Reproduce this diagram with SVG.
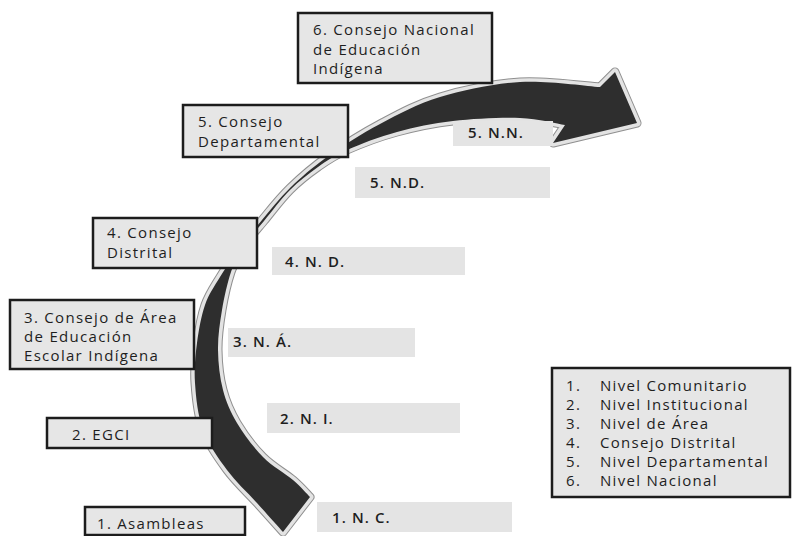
<svg xmlns="http://www.w3.org/2000/svg" xmlns:xlink="http://www.w3.org/1999/xlink" width="795" height="536" viewBox="0 0 795 536">
<style>
.box{fill:#e6e6e6;stroke:#1c1c1c;stroke-width:2.5}
.bar{fill:#e4e4e4}
.t{font-family:"Open Sans","Noto Sans",sans-serif;font-size:15px;font-weight:500;fill:#1e1e1e;letter-spacing:1.3px}
.b{font-weight:600;letter-spacing:1.1px}
</style>
<defs>
<path id="arrowShape" d="M283,532 C278.7,527.2 266.3,513.3 257,503 C247.7,492.7 236,482.2 227,470 C218,457.8 208.3,444.5 203,430 C197.7,415.5 196,397.5 195,383 C194,368.5 195.3,356 197,343 C198.7,330 201.2,316 205,305 C208.8,294 214.2,286.5 220,277 C225.8,267.5 233,257.5 240,248 C247,238.5 253.7,230 262,220 C270.3,210 279.2,198.5 290,188 C300.8,177.5 312,167.7 327,157 C342,146.3 361.2,134 380,124 C398.8,114 416.7,104 440,97 C463.3,90 493.3,83.7 520,82 C546.7,80.3 586.7,86.2 600,87 L615,72 L637,123 L553,143 L565,125 C557.5,123.8 538.7,118.7 520,118 C501.3,117.3 473.5,118.7 453,121 C432.5,123.3 414.7,127.2 397,132 C379.3,136.8 360.2,144.2 347,150 C333.8,155.8 327.5,160.3 318,167 C308.5,173.7 299,181 290,190 C281,199 271.8,211.5 264,221 C256.2,230.5 248.5,238.5 243,247 C237.5,255.5 234.5,261.5 231,272 C227.5,282.5 224.2,297 222,310 C219.8,323 217.8,336.7 218,350 C218.2,363.3 219.8,377.8 223,390 C226.2,402.2 230.3,411.8 237,423 C243.7,434.2 253.7,447.5 263,457 C272.3,466.5 285.2,473.3 293,480 C300.8,486.7 307.2,494.2 310,497 Z"/>
</defs>
<g id="connectors">
<use xlink:href="#arrowShape" href="#arrowShape" fill="none" stroke="#8f8f8f" stroke-width="9" stroke-linejoin="round"/>
<use xlink:href="#arrowShape" href="#arrowShape" fill="none" stroke="#e3e3e3" stroke-width="7" stroke-linejoin="round"/>
<use xlink:href="#arrowShape" href="#arrowShape" fill="#2e2e2e"/>
</g>
<g id="bar-5nn"><rect class="bar" x="453" y="121" width="100" height="25"/><text class="t b" x="468" y="138">5. N.N.</text></g>
<g id="bar-5nd"><rect class="bar" x="355" y="167" width="195" height="31"/><text class="t b" x="370" y="188">5. N.D.</text></g>
<g id="bar-4nd"><rect class="bar" x="272" y="247" width="193" height="28"/><text class="t b" x="285" y="267">4. N. D.</text></g>
<g id="bar-3na"><rect class="bar" x="228" y="328" width="187" height="29"/><text class="t b" x="233" y="347">3. N. Á.</text></g>
<g id="bar-2ni"><rect class="bar" x="267" y="403" width="193" height="30"/><text class="t b" x="280" y="424">2. N. I.</text></g>
<g id="bar-1nc"><rect class="bar" x="317" y="502" width="195" height="30"/><text class="t b" x="332" y="523">1. N. C.</text></g>
<g id="box-6"><rect class="box" x="298" y="13" width="194" height="70"/><text class="t" x="313" y="35">6. Consejo Nacional</text><text class="t" x="313" y="55">de Educación</text><text class="t" x="313" y="74">Indígena</text></g>
<g id="box-5"><rect class="box" x="183" y="105" width="165" height="52"/><text class="t" x="198" y="127">5. Consejo</text><text class="t" x="198" y="147">Departamental</text></g>
<g id="box-4"><rect class="box" x="93" y="218" width="164" height="50"/><text class="t" x="107" y="238">4. Consejo</text><text class="t" x="107" y="258">Distrital</text></g>
<g id="box-3"><rect class="box" x="10" y="300" width="184" height="69"/><text class="t" x="24" y="323">3. Consejo de Área</text><text class="t" x="24" y="342">de Educación</text><text class="t" x="24" y="361">Escolar Indígena</text></g>
<g id="box-2"><rect class="box" x="47" y="418" width="165" height="30"/><text class="t" x="72" y="440">2. EGCI</text></g>
<g id="box-1"><rect class="box" x="85" y="507" width="160" height="28"/><text class="t" x="97" y="529">1. Asambleas</text></g>
<g id="legend"><rect class="box" x="552" y="368" width="238" height="129"/>
<text class="t" x="566" y="391">1.</text><text class="t" x="600" y="391">Nivel Comunitario</text>
<text class="t" x="566" y="410">2.</text><text class="t" x="600" y="410">Nivel Institucional</text>
<text class="t" x="566" y="429">3.</text><text class="t" x="600" y="429">Nivel de Área</text>
<text class="t" x="566" y="448">4.</text><text class="t" x="600" y="448">Consejo Distrital</text>
<text class="t" x="566" y="467">5.</text><text class="t" x="600" y="467">Nivel Departamental</text>
<text class="t" x="566" y="486">6.</text><text class="t" x="600" y="486">Nivel Nacional</text>
</g>
</svg>
